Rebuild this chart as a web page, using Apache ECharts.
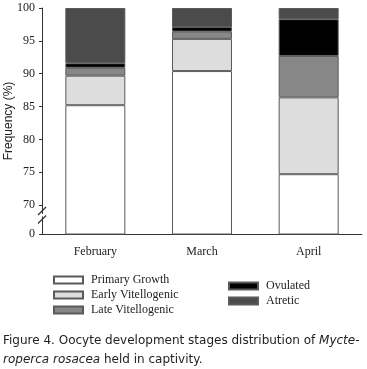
<!DOCTYPE html>
<html>
<head>
<meta charset="utf-8">
<script src="https://cdn.jsdelivr.net/npm/echarts@6/dist/echarts.min.js"></script>
<style>
  html, body { margin: 0; padding: 0; background: #fff; }
  #chart { width: 367px; height: 369px; }
</style>
</head>
<body>
<div id="chart"></div>
<script>
// categories and values (stacked, percent)
const months = ['February', 'March', 'April']
const primaryGrowth = [85.2, 90.4, 74.7]
const earlyVitellogenic = [4.5, 4.9, 11.7]
const lateVitellogenic = [1.2, 1.1, 6.3]
const ovulated = [0.7, 0.7, 5.6]
const atretic = [8.4, 2.9, 1.7]

// y-axis: broken between 0 and 70
const yTicks = [65.6, 70, 75, 80, 85, 90, 95, 100]
const yBreakLabel = '0'

const serif = '"Liberation Serif", "DejaVu Serif", serif'
const sans = '"DejaVu Sans", sans-serif'
const edge = '#5a5a5a'

const chart = echarts.init(document.getElementById('chart'))

function stackSeries(name, data, color) {
  return {
    name: name,
    type: 'bar',
    stack: 'all',
    data: data,
    barWidth: 60,
    itemStyle: { color: color, borderColor: edge, borderWidth: 1 }
  }
}

const legendBase = {
  orient: 'vertical',
  icon: 'rect',
  padding: 0,
  itemWidth: 29,
  itemHeight: 7,
  itemGap: 3,
  textStyle: { fontFamily: serif, fontSize: 12, color: '#222', padding: [0, 0, 0, 3] }
}

const option = {
  animation: false,
  grid: { left: 42, right: 5, top: 8, bottom: 135, outerBoundsMode: 'none' },
  legend: [
    Object.assign({}, legendBase, {
      left: 53,
      top: 274,
      data: ['Primary Growth', 'Early Vitellogenic', 'Late Vitellogenic']
    }),
    Object.assign({}, legendBase, {
      left: 228,
      top: 280,
      data: ['Ovulated', 'Atretic']
    })
  ],
  xAxis: {
    type: 'category',
    data: months,
    axisLine: { lineStyle: { color: '#333', width: 1 } },
    axisTick: { show: false },
    axisLabel: { fontFamily: serif, fontSize: 12, color: '#222', margin: 12 }
  },
  yAxis: {
    type: 'value',
    min: yTicks[0],
    max: 100,
    name: 'Frequency (%)',
    nameLocation: 'middle',
    nameGap: 27,
    nameMoveOverlap: false,
    nameTextStyle: { fontFamily: '"Liberation Sans", Arial, sans-serif', fontSize: 12, color: '#222' },
    splitLine: { show: false },
    axisLine: { show: true, lineStyle: { color: '#333', width: 1 } },
    axisTick: { show: true, length: 3, customValues: yTicks, lineStyle: { color: '#333' } },
    axisLabel: {
      customValues: yTicks,
      fontFamily: serif,
      fontSize: 12,
      color: '#222',
      margin: 7,
      formatter: function (v) { return v === yTicks[0] ? yBreakLabel : String(v) }
    }
  },
  series: [
    stackSeries('Primary Growth', primaryGrowth, '#ffffff'),
    stackSeries('Early Vitellogenic', earlyVitellogenic, '#dddddd'),
    stackSeries('Late Vitellogenic', lateVitellogenic, '#878787'),
    stackSeries('Ovulated', ovulated, '#000000'),
    stackSeries('Atretic', atretic, '#4b4b4b')
  ]
}

chart.setOption(option)

// caption and axis break marks between 0 and 70
const xLeft = 42
const yA = chart.convertToPixel({ yAxisIndex: 0 }, 69.1)
const yB = chart.convertToPixel({ yAxisIndex: 0 }, 67.8)
chart.setOption({
  graphic: [
    {
      type: 'text',
      left: 3,
      top: 331,
      style: {
        text: 'Figure 4. Oocyte development stages distribution of {i|Mycte-}\n{i|roperca rosacea} held in captivity.',
        fontFamily: sans,
        fontSize: 12,
        lineHeight: 19,
        fill: '#222',
        rich: {
          i: { fontFamily: sans, fontSize: 12, fontStyle: 'italic', fill: '#222' }
        }
      }
    },
    {
      type: 'rect',
      shape: { x: xLeft - 1.5, y: yA + 3, width: 3, height: yB - yA - 6 },
      style: { fill: '#fff' },
      z: 100
    },
    {
      type: 'line',
      shape: { x1: xLeft - 4, y1: yA + 4, x2: xLeft + 4, y2: yA - 4 },
      style: { stroke: '#333', lineWidth: 1.2 },
      z: 101
    },
    {
      type: 'line',
      shape: { x1: xLeft - 4, y1: yB + 4, x2: xLeft + 4, y2: yB - 4 },
      style: { stroke: '#333', lineWidth: 1.2 },
      z: 101
    }
  ]
})
</script>
</body>
</html>
